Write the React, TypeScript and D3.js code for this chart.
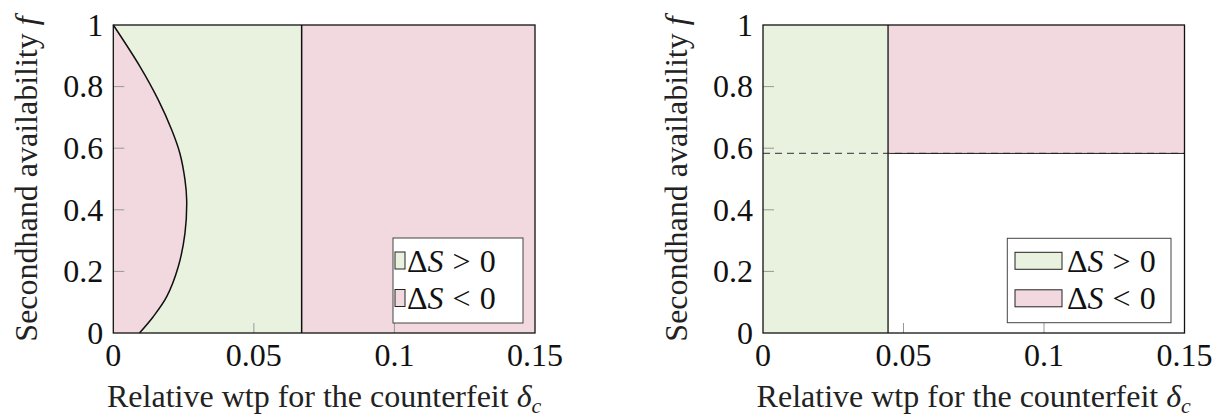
import * as d3 from 'd3';
import React from 'react';

// axis ticks
const xTicks = [0, 0.05, 0.1, 0.15];
const xTickLabels = ['0', '0.05', '0.1', '0.15'];
const yTicks = [0, 0.2, 0.4, 0.6, 0.8, 1];
const yTickLabels = ['0', '0.2', '0.4', '0.6', '0.8', '1'];

// left panel: boundary curve delta_c(f)
const boundaryF = [0, 0.053, 0.118, 0.215, 0.324, 0.432, 0.497, 0.583, 0.659, 0.757, 0.865, 1];
const boundaryDelta = [0.0093, 0.0142, 0.019, 0.0231, 0.0255, 0.0261, 0.0255, 0.0237, 0.0208, 0.016, 0.0095, 0];
const leftThreshold = 0.067;

// right panel
const rightThreshold = 0.0445;
const rightFThreshold = 0.583;

const legendLabels = ['>', '<'];

const GREEN = '#e8f2df';
const PINK = '#f2d9e0';
const FONT = 'Liberation Serif';
const FS = 32;

const W = 1214;
const H = 415;
const TOP = 25;
const BOTTOM = 333;

function Legend({ x, y, w, h, swX, swW, gap }: any) {
  return (
    <g>
      <rect x={x} y={y} width={w} height={h} fill="white" stroke="#444" strokeWidth={1} />
      {legendLabels.map((op, i) => {
        const cy = y + 22.5 + i * 37.5;
        return (
          <g key={i}>
            <rect x={swX} y={cy - 8.5} width={swW} height={17}
              fill={i === 0 ? GREEN : PINK} stroke="#222" strokeWidth={1} />
            <text x={swX + swW + gap} y={cy + 11} fontFamily={FONT} fontSize={FS} fill="#111">
              Δ<tspan fontStyle="italic">S</tspan>
              <tspan dx={9}>{op}</tspan>
              <tspan dx={9}>0</tspan>
            </text>
          </g>
        );
      })}
    </g>
  );
}

function Axes({ x0, x1, children, legend }: any) {
  const sx = d3.scaleLinear().domain([0, 0.15]).range([x0, x1]);
  const sy = d3.scaleLinear().domain([0, 1]).range([BOTTOM, TOP]);
  return (
    <g>
      {children(sx, sy)}
      {/* ticks */}
      {xTicks.slice(1, -1).map((t) => (
        <line key={'xt' + t} x1={sx(t)} x2={sx(t)} y1={BOTTOM} y2={BOTTOM - 10} stroke="#999" strokeWidth={1} />
      ))}
      {yTicks.slice(1, -1).map((t) => (
        <line key={'yt' + t} x1={x0} x2={x0 + 11} y1={sy(t)} y2={sy(t)} stroke="#999" strokeWidth={1} />
      ))}
      {legend(sx, sy)}
      <rect x={x0} y={TOP} width={x1 - x0} height={BOTTOM - TOP} fill="none" stroke="#111" strokeWidth={1.3} />
      {/* tick labels */}
      {xTicks.map((t, i) => (
        <text key={'xl' + t} x={sx(t)} y={366} textAnchor="middle" fontFamily={FONT} fontSize={FS} fill="#111">
          {xTickLabels[i]}
        </text>
      ))}
      {yTicks.map((t, i) => (
        <text key={'yl' + t} x={x0 - 10} y={sy(t)} dy="0.34em" textAnchor="end" fontFamily={FONT} fontSize={FS} fill="#111">
          {yTickLabels[i]}
        </text>
      ))}
      <text x={(x0 + x1) / 2} y={407} textAnchor="middle" fontFamily={FONT} fontSize={FS} fill="#222">
        Relative wtp for the counterfeit <tspan fontStyle="italic">δ</tspan>
        <tspan fontStyle="italic" fontSize={22} dy={6}>c</tspan>
      </text>
      <text transform={`translate(${x0 - 76},${(TOP + BOTTOM) / 2}) rotate(-90)`} textAnchor="middle"
        fontFamily={FONT} fontSize={FS} fill="#222">
        Secondhand availability <tspan fontStyle="italic">f</tspan>
      </text>
    </g>
  );
}

export default function App() {
  const pts = boundaryF.map((f, i) => ({ f, d: boundaryDelta[i] }));
  return (
    <div>
      <style>{`body{margin:0}`}</style>
      <svg width={W} height={H} style={{ display: 'block' }}>
        <rect width={W} height={H} fill="white" />
        <Axes x0={113.3} x1={535}
          legend={() => <Legend x={393} y={238} w={130} h={85} swX={395} swW={10} gap={2} />}>
          {(sx: any, sy: any) => {
            const area = d3.area<any>()
              .y((p) => sy(p.f))
              .x0((p) => sx(p.d))
              .x1(sx(leftThreshold))
              .curve(d3.curveCatmullRom.alpha(0.5));
            const line = d3.line<any>()
              .x((p) => sx(p.d))
              .y((p) => sy(p.f))
              .curve(d3.curveCatmullRom.alpha(0.5));
            return (
              <g>
                <rect x={sx(0)} y={sy(1)} width={sx(0.15) - sx(0)} height={sy(0) - sy(1)} fill={PINK} />
                <path d={area(pts) || ''} fill={GREEN} />
                <path d={line(pts) || ''} fill="none" stroke="#111" strokeWidth={1.5} />
                <line x1={sx(leftThreshold)} x2={sx(leftThreshold)} y1={sy(0)} y2={sy(1)} stroke="#111" strokeWidth={1.5} />
              </g>
            );
          }}
        </Axes>
        <Axes x0={763} x1={1184.5}
          legend={() => <Legend x={1007.3} y={238.3} w={163.7} h={84.4} swX={1015} swW={47} gap={5} />}>
          {(sx: any, sy: any) => (
            <g>
              <rect x={sx(0)} y={sy(1)} width={sx(rightThreshold) - sx(0)} height={sy(0) - sy(1)} fill={GREEN} />
              <rect x={sx(rightThreshold)} y={sy(1)} width={sx(0.15) - sx(rightThreshold)}
                height={sy(rightFThreshold) - sy(1)} fill={PINK} />
              <line x1={sx(0)} x2={sx(0.15)} y1={sy(rightFThreshold)} y2={sy(rightFThreshold)}
                stroke="#555" strokeWidth={1.3} strokeDasharray="7 5" />
              <line x1={sx(rightThreshold) + 2} x2={sx(0.15)} y1={sy(rightFThreshold)} y2={sy(rightFThreshold)}
                stroke="#222" strokeWidth={1} />
              <line x1={sx(rightThreshold)} x2={sx(rightThreshold)} y1={sy(0)} y2={sy(1)} stroke="#111" strokeWidth={1.3} />
            </g>
          )}
        </Axes>
      </svg>
    </div>
  );
}
